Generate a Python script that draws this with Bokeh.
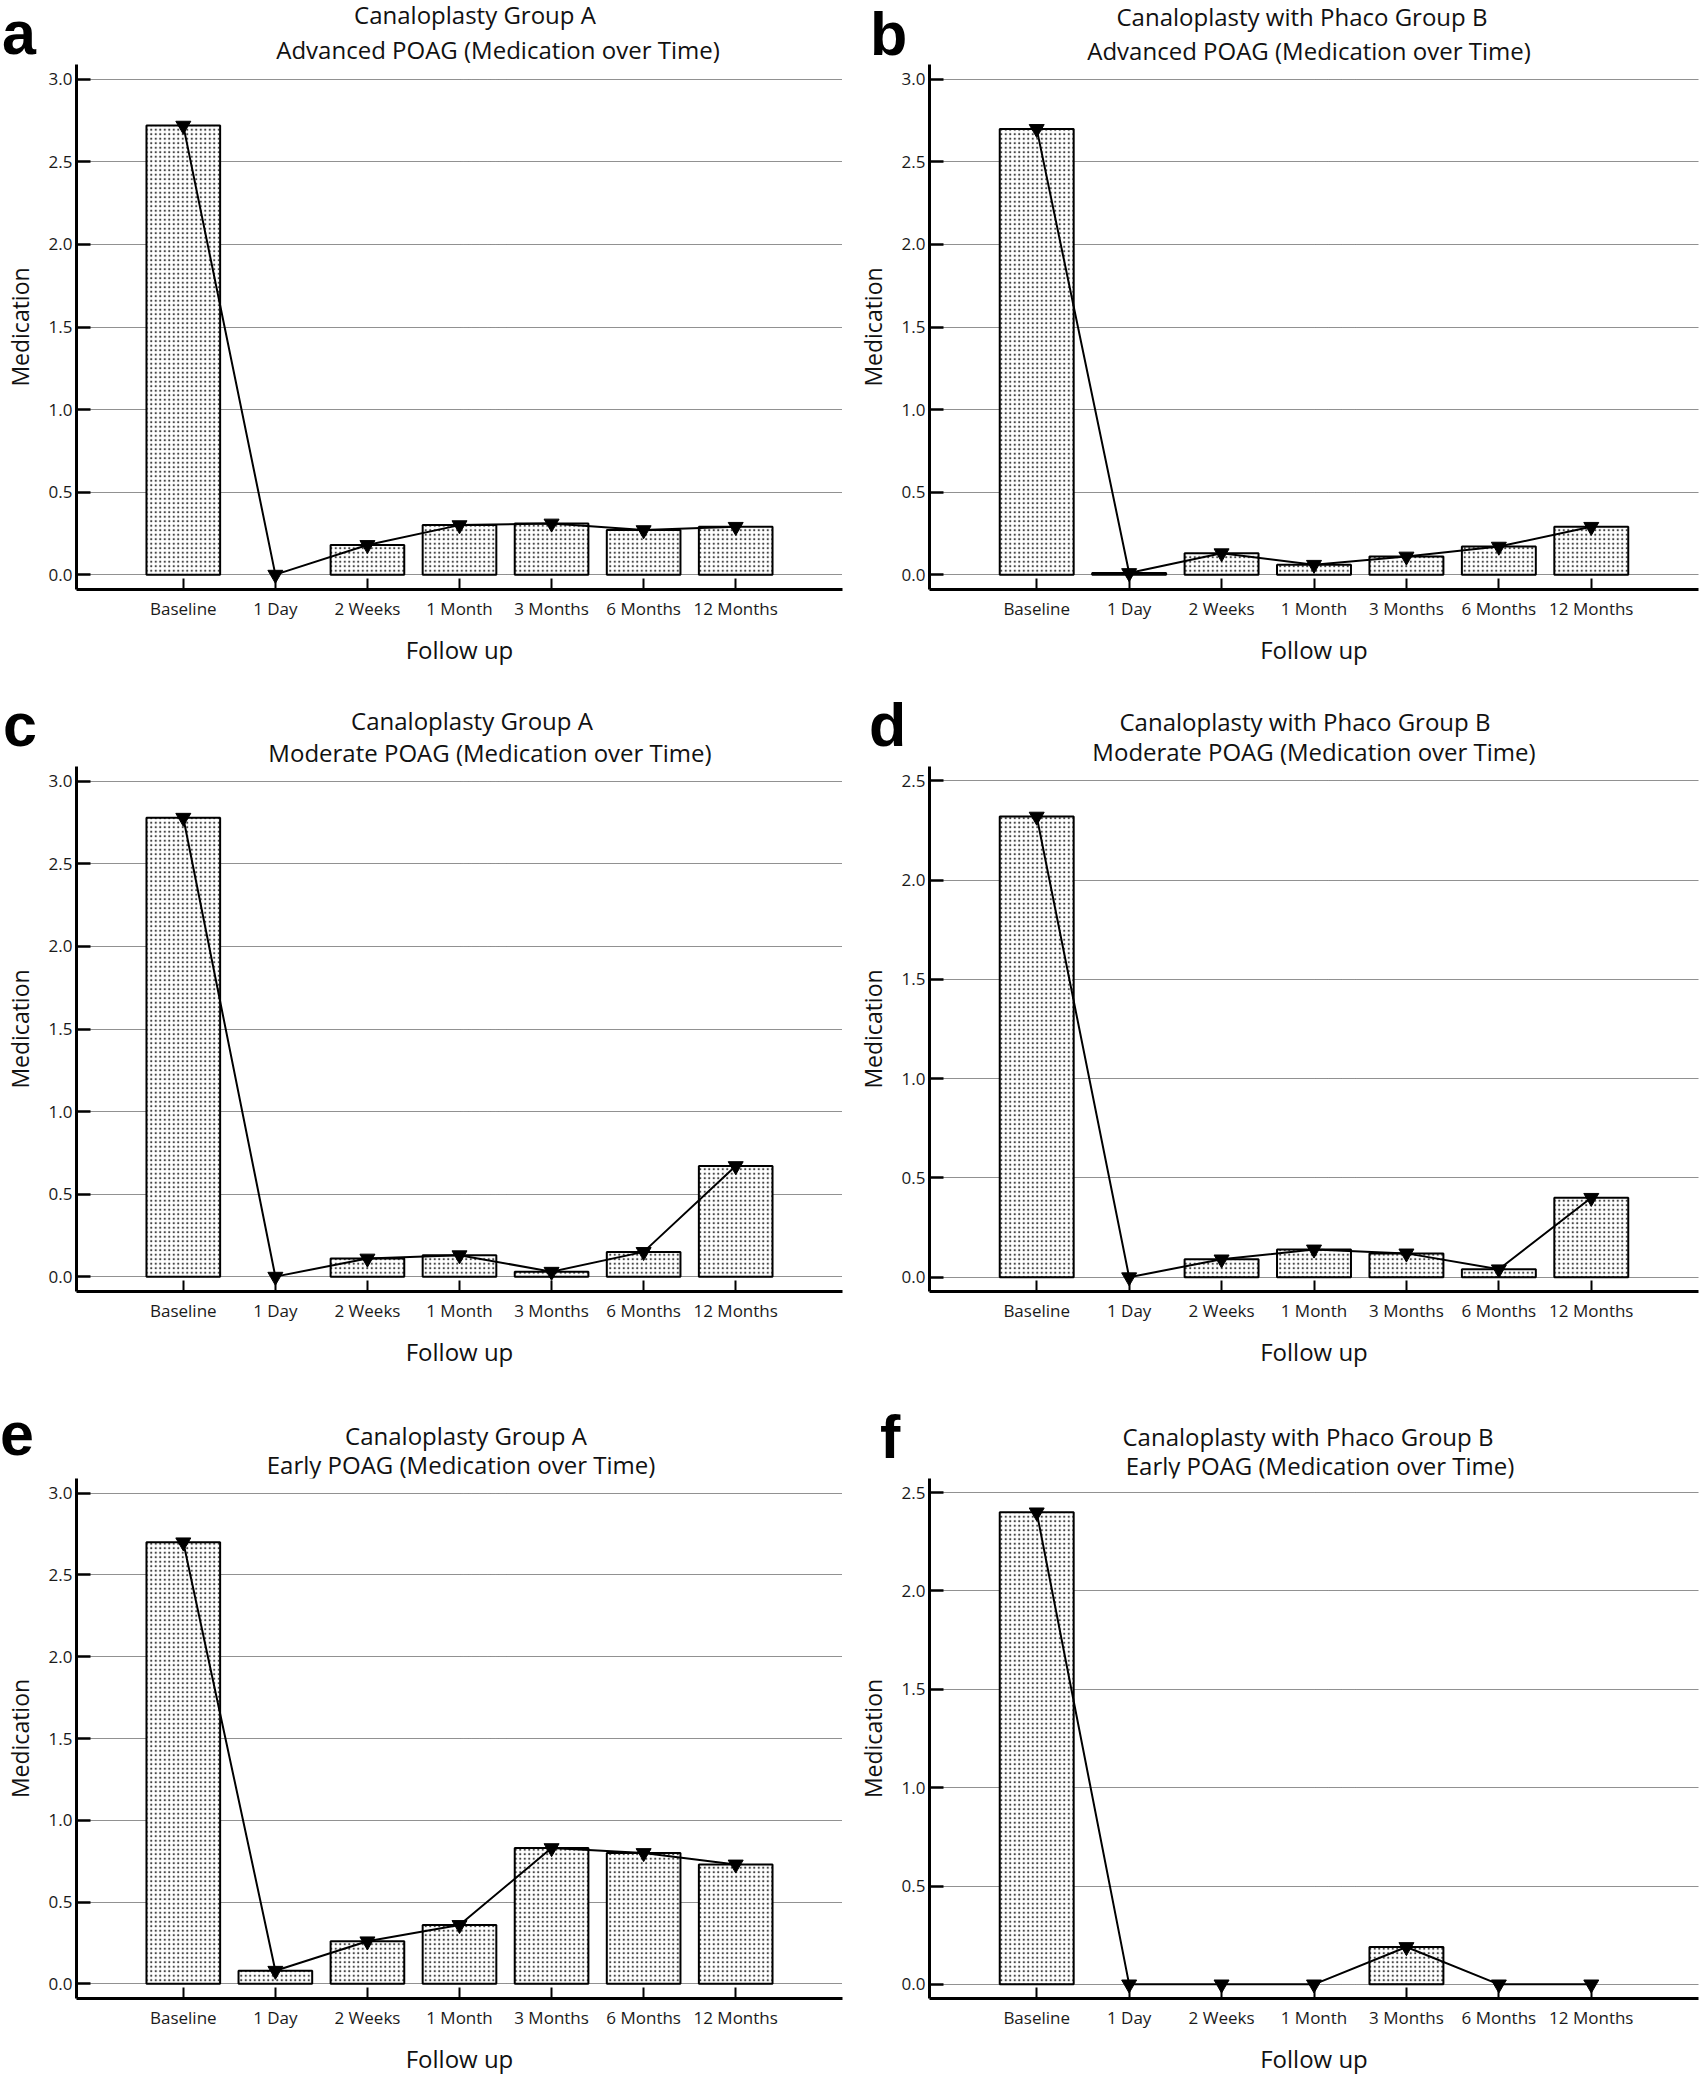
from bokeh.plotting import figure
from bokeh.models import (FactorRange, Range1d, FixedTicker, NumeralTickFormatter,
                          ColumnDataSource, Div)
from bokeh.layouts import column, row
from bokeh.embed import file_html
from bokeh.resources import INLINE

# ---------------- data ----------------
follow_up = ["Baseline", "1 Day", "2 Weeks", "1 Month", "3 Months", "6 Months", "12 Months"]

a_values = [2.72, 0.00, 0.18, 0.30, 0.31, 0.27, 0.29]
b_values = [2.70, 0.01, 0.13, 0.06, 0.11, 0.17, 0.29]
c_values = [2.78, 0.00, 0.11, 0.13, 0.03, 0.15, 0.67]
d_values = [2.32, 0.00, 0.09, 0.14, 0.12, 0.04, 0.40]
e_values = [2.70, 0.08, 0.26, 0.36, 0.83, 0.80, 0.73]
f_values = [2.40, 0.00, 0.00, 0.00, 0.19, 0.00, 0.00]

ticks_3 = [0.0, 0.5, 1.0, 1.5, 2.0, 2.5, 3.0]
ticks_25 = [0.0, 0.5, 1.0, 1.5, 2.0, 2.5]

letters = ["a", "b", "c", "d", "e", "f"]
title_line1 = ["Canaloplasty Group A", "Canaloplasty with Phaco Group B",
               "Canaloplasty Group A", "Canaloplasty with Phaco Group B",
               "Canaloplasty Group A", "Canaloplasty with Phaco Group B"]
title_line2 = ["Advanced POAG (Medication over Time)", "Advanced POAG (Medication over Time)",
               "Moderate POAG (Medication over Time)", "Moderate POAG (Medication over Time)",
               "Early POAG (Medication over Time)", "Early POAG (Medication over Time)"]

# ---------------- layout (panel-local pixels) ----------------
# W,H: panel size; L,R: frame left/right; T,B: frame top/bottom
# t1,t2: (centre x, baseline y) of title lines; let: (left x, baseline y) of letter
geo = {
    "a": dict(W=850, H=695, L=70, R=842, T=64, B=589, t1=(475, 24), t2=(498, 59), let=(2, 54), ys=10),
    "b": dict(W=850, H=695, L=79, R=848, T=64, B=589, t1=(452, 26), t2=(459, 60), let=(20, 55), ys=10),
    "c": dict(W=850, H=715, L=70, R=842, T=71, B=596, t1=(472, 35), t2=(490, 67), let=(3, 51), ys=10),
    "d": dict(W=850, H=715, L=79, R=848, T=71, B=596, t1=(455, 36), t2=(464, 66), let=(19, 51), ys=10),
    "e": dict(W=850, H=667, L=70, R=842, T=68, B=593, t1=(466, 35), t2=(461, 64), let=(0, 45), ys=10),
    "f": dict(W=850, H=667, L=79, R=848, T=68, B=593, t1=(458, 36), t2=(470, 65), let=(30, 48), ys=10),
}

FONT = "Open Sans"


def make_header(idx):
    key = letters[idx]
    g = geo[key]
    parts = []
    for (cx, base), txt in ((g["t1"], title_line1[idx]), (g["t2"], title_line2[idx])):
        top = base - 21.3
        parts.append(
            f'<div style="position:absolute;left:{cx}px;top:{top:.1f}px;'
            f'transform:translateX(-50%);white-space:nowrap;font-family:\'Open Sans\';'
            f'font-size:24px;line-height:24px;color:#111111;">{txt}</div>')
    lx, lb = g["let"]
    parts.append(
        f'<div style="position:absolute;left:{lx}px;top:{lb - 43.8:.1f}px;white-space:nowrap;'
        f'font-family:\'Liberation Sans\';font-weight:bold;font-size:61px;line-height:46px;'
        f'color:#000000;">{key}</div>')
    html = (f'<div style="position:relative;width:{g["W"]}px;height:{g["T"]}px;'
            f'overflow:visible;">' + "".join(parts) + '</div>')
    return Div(text=html, width=g["W"], height=g["T"], margin=(0, 0, 0, 0),
               styles={"overflow": "visible"})


def make_panel(idx, values, ticks):
    key = letters[idx]
    g = geo[key]
    top = ticks[-1]
    pad = 0.09 if top == 3.0 else 0.072
    p = figure(width=g["W"], height=g["H"] - g["T"], output_backend="svg",
               toolbar_location=None, title=None,
               x_range=FactorRange(factors=follow_up, range_padding=0.66,
                                   range_padding_units="absolute"),
               y_range=Range1d(-pad, top + pad),
               min_border_left=g["L"], min_border_right=g["W"] - g["R"],
               min_border_top=0, min_border_bottom=g["H"] - g["B"])
    p.outline_line_color = None
    p.background_fill_color = "white"
    p.border_fill_color = None

    bx = [c for c, v in zip(follow_up, values) if v > 0]
    by = [v for v in values if v > 0]
    src = ColumnDataSource(dict(x=bx, top=by))
    p.vbar(x="x", top="top", bottom=0, width=0.8, source=src,
           fill_color="white", line_color="black", line_width=2,
           hatch_pattern="dot", hatch_color="#444444", hatch_scale=4.5, hatch_weight=1.1)
    p.line(x=follow_up, y=values, line_color="black", line_width=2)
    p.scatter(x=follow_up, y=values, marker="inverted_triangle", size=15,
              fill_color="black", line_color="black")

    # grid
    p.xgrid.grid_line_color = None
    p.ygrid.ticker = FixedTicker(ticks=ticks)
    p.ygrid.grid_line_color = "#222222"
    p.ygrid.grid_line_dash = "1 1"
    p.ygrid.grid_line_width = 1

    # y axis
    ya = p.yaxis[0]
    ya.ticker = FixedTicker(ticks=ticks, minor_ticks=[])
    ya.formatter = NumeralTickFormatter(format="0.0")
    ya.axis_line_width = 3
    ya.axis_line_color = "black"
    ya.major_tick_in = 14
    ya.major_tick_out = 0
    ya.major_tick_line_width = 2.5
    ya.minor_tick_line_color = None
    ya.major_label_text_font = FONT
    ya.major_label_text_font_size = "17px"
    ya.major_label_text_color = "#1a1a1a"
    ya.major_label_standoff = 4
    ya.axis_label = "Medication"
    ya.axis_label_text_font = FONT
    ya.axis_label_text_font_size = "23px"
    ya.axis_label_text_font_style = "normal"
    ya.axis_label_text_color = "#111111"
    ya.axis_label_text_line_height = 1.0
    ya.axis_label_standoff = g["ys"]

    # x axis
    xa = p.xaxis[0]
    xa.axis_line_width = 3
    xa.axis_line_color = "black"
    xa.major_tick_in = 11
    xa.major_tick_out = 0
    xa.major_tick_line_width = 2
    xa.major_label_text_font = FONT
    xa.major_label_text_font_size = "17px"
    xa.major_label_text_color = "#1a1a1a"
    xa.major_label_text_line_height = 1.0
    xa.major_label_standoff = 7
    xa.axis_label = "Follow up"
    xa.axis_label_text_font = FONT
    xa.axis_label_text_font_size = "24px"
    xa.axis_label_text_font_style = "normal"
    xa.axis_label_text_color = "#111111"
    xa.axis_label_text_line_height = 1.0
    xa.axis_label_standoff = 10
    return p


specs = [(a_values, ticks_3), (b_values, ticks_3), (c_values, ticks_3),
         (d_values, ticks_25), (e_values, ticks_3), (f_values, ticks_25)]
panels = [column(make_header(i), make_panel(i, v, t)) for i, (v, t) in enumerate(specs)]

layout = column(row(panels[0], panels[1]), row(panels[2], panels[3]), row(panels[4], panels[5]))

open("out.html", "w").write(file_html(layout, INLINE))
